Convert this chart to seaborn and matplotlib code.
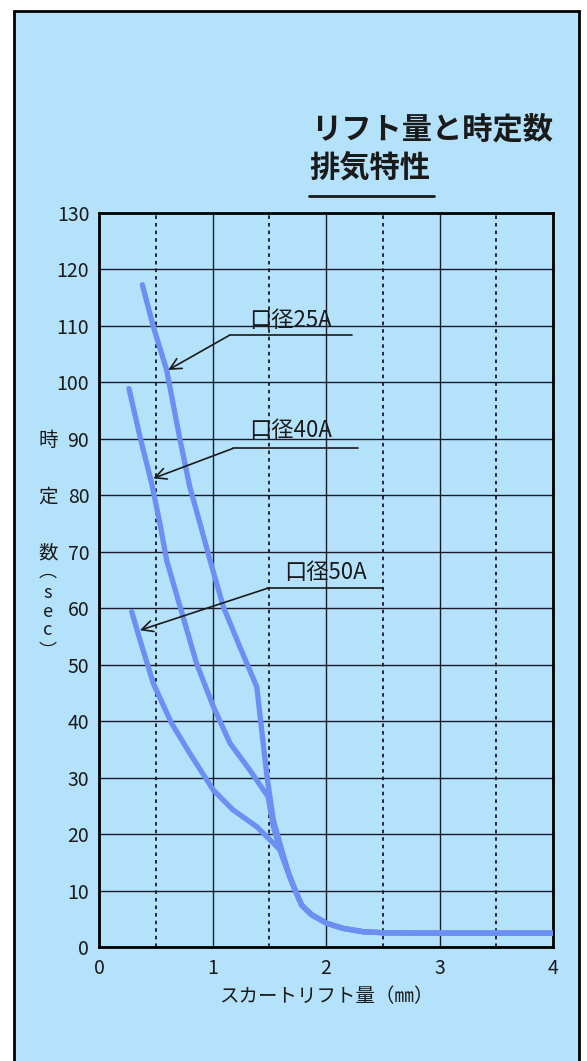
import matplotlib
matplotlib.use("Agg")
import matplotlib.pyplot as plt
import matplotlib.patches as patches
from matplotlib.lines import Line2D
import seaborn as sns
import numpy as np

# data (x = skirt lift mm, y = time constant sec)
tail_x = [1.68, 1.74, 1.786, 1.874, 2.006, 2.15, 2.33, 2.53, 3.0, 3.5, 4.0]
tail_y = [12.5, 9.5, 7.4, 5.7, 4.2, 3.3, 2.7, 2.5, 2.45, 2.45, 2.45]

x_25a = [0.382, 0.478, 0.596, 0.714, 0.80, 0.89, 0.978, 1.095, 1.24, 1.39, 1.43, 1.48,
         1.536, 1.61] + tail_x
y_25a = [117.3, 109.9, 102.2, 89.8, 81.5, 75.0, 68.5, 60.3, 53.2, 46.1, 39.0, 30.2,
         22.5, 17.2] + tail_y
x_40a = [0.264, 0.361, 0.464, 0.537, 0.596, 0.714, 0.86, 1.007, 1.154, 1.33, 1.49,
         1.536, 1.595] + tail_x
y_40a = [98.9, 90.4, 82.1, 75.0, 68.5, 60.3, 50.2, 42.6, 36.1, 31.3, 26.6,
         21.3, 17.2] + tail_y
x_50a = [0.288, 0.361, 0.478, 0.64, 0.80, 1.007, 1.18, 1.39, 1.536, 1.595] + tail_x
y_50a = [59.4, 54.4, 46.7, 39.6, 34.3, 27.8, 24.3, 21.3, 18.4, 17.2] + tail_y

labels = ["口径25A", "口径40A", "口径50A"]
label_xy = [(1.32, 111.0), (1.32, 91.4), (1.63, 66.4)]
leader_y = [108.4, 88.3, 63.5]
leader_x = [(1.154, 2.23), (1.18, 2.28), (1.48, 2.50)]
arrow_tip = [(0.61, 102.2), (0.478, 83.0), (0.36, 56.1)]

x_ticks = [0, 1, 2, 3, 4]
y_ticks = list(range(0, 131, 10))

bg = "#b4e2fa"
curve = "#6b8ff2"
grid_c = "#1a1a2a"

sns.set_style("white")
plt.rcParams["font.family"] = ["Noto Sans CJK JP", "DejaVu Sans"]

fig = plt.figure(figsize=(5.87, 10.61), dpi=100)
fig.patch.set_facecolor("white")
fig.patches.append(patches.Rectangle((14 / 587, -0.02), 565 / 587, 1.02 - 11 / 1061,
                                     transform=fig.transFigure, facecolor=bg,
                                     edgecolor="black", linewidth=2, zorder=-5))

ax = fig.add_axes([99 / 587, 114 / 1061, 454 / 587, 734 / 1061])
ax.set_zorder(2)
ax.set_facecolor(bg)

for xs, ys in [(x_25a, y_25a), (x_40a, y_40a), (x_50a, y_50a)]:
    sns.lineplot(x=xs, y=ys, ax=ax, color=curve, linewidth=3.8, sort=False,
                 solid_capstyle="round", solid_joinstyle="round", zorder=3)

ax.set_xlim(0, 4)
ax.set_ylim(0, 130)
ax.set_xticks(x_ticks)
ax.set_xticks([0.5, 1.5, 2.5, 3.5], minor=True)
ax.set_yticks(y_ticks)
ax.grid(True, which="major", color=grid_c, linewidth=1.0, linestyle="-")
ax.grid(True, which="minor", axis="x", color=grid_c, linewidth=1.3, linestyle=(0, (2, 2.2)))
ax.set_axisbelow(True)
ax.tick_params(which="both", length=0)
ax.tick_params(axis="x", pad=8)
ax.tick_params(axis="y", pad=7)
for lab in ax.get_xticklabels() + ax.get_yticklabels():
    lab.set_fontsize(14)
    lab.set_color("#1a1a1a")
for s in ax.spines.values():
    s.set_color("black")
    s.set_linewidth(2)
ax.set_xlabel("スカートリフト量（㎜）", fontsize=14, labelpad=5, color="#1a1a1a")
ax.set_ylabel("")

# leaders and labels
for lab, (tx, ty), ly, (lx0, lx1), tip in zip(labels, label_xy, leader_y, leader_x, arrow_tip):
    ax.plot([lx0, lx1], [ly, ly], color="#1a1a1a", linewidth=1.2, zorder=4)
    ax.annotate("", xy=tip, xytext=(lx0, ly),
                arrowprops=dict(arrowstyle="->", color="#1a1a1a", lw=1.2,
                                mutation_scale=20, shrinkA=0, shrinkB=0), zorder=4)
    ax.text(tx, ty, lab, fontsize=16, ha="left", va="center", color="#1a1a1a", zorder=5)

# vertical y label
ylab_chars = ["時", "定", "数", "︵", "s", "e", "c", "︶"]
ylab_pos = [440, 497, 553, 572, 593, 612, 630, 652]
for ch, py in zip(ylab_chars, ylab_pos):
    fig.text(48 / 587, 1 - py / 1061, ch, fontsize=14 if ch in "時定数" else 13,
             ha="center", va="center", color="#1a1a1a")

# title
fig.text(311 / 587, 1 - 130 / 1061, "リフト量と時定数", fontsize=21.8, weight="bold",
         ha="left", va="center", color="#1a1a1a")
fig.text(309 / 587, 1 - 168 / 1061, "排気特性", fontsize=21.8, weight="bold",
         ha="left", va="center", color="#1a1a1a")
fig.lines.append(Line2D([309 / 587, 434 / 587], [1 - 196 / 1061, 1 - 196 / 1061],
                        transform=fig.transFigure, color="#1a1a1a", linewidth=2))

fig.savefig("out.png", dpi=100, facecolor="white")
